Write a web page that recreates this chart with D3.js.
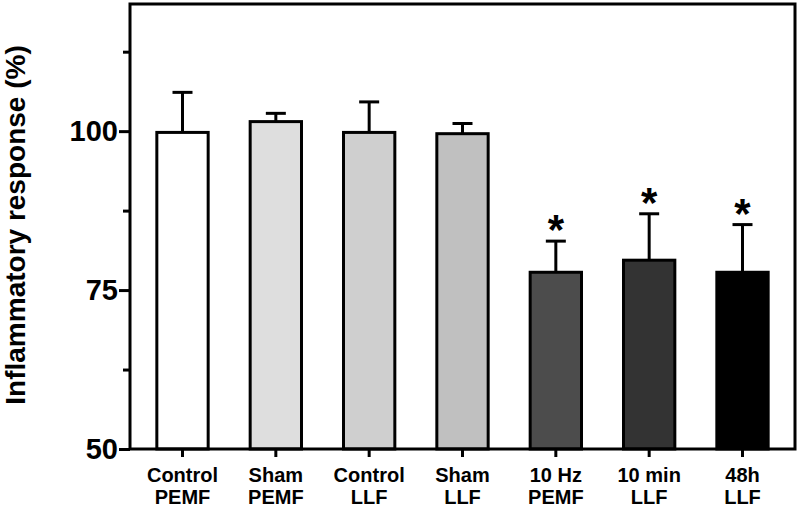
<!DOCTYPE html>
<html>
<head>
<meta charset="utf-8">
<script src="https://cdn.jsdelivr.net/npm/d3@7"></script>
<style>
  body { margin: 0; background: #fff; }
  text { font-family: "Liberation Sans", Arial, Helvetica, sans-serif; font-weight: bold; }
</style>
</head>
<body>
<svg id="chart" width="800" height="509"></svg>
<script>
const groups = [["Control", "PEMF"], ["Sham", "PEMF"], ["Control", "LLF"], ["Sham", "LLF"],
                ["10 Hz", "PEMF"], ["10 min", "LLF"], ["48h", "LLF"]];
const means = [99.8, 101.5, 99.8, 99.6, 77.8, 79.7, 77.8];
const errTops = [106.1, 102.8, 104.6, 101.2, 82.7, 87.0, 85.3];
const significant = [false, false, false, false, true, true, true];
const fills = ["#ffffff", "#dedede", "#cfcfcf", "#c0c0c0", "#4c4c4c", "#333333", "#000000"];
const yTicks = [50, 62.5, 75, 87.5, 100, 112.5];
const yLabels = [50, 75, 100];

const svg = d3.select("#chart");
const mLeft = 130, mRight = 795, mTop = 4, mBottom = 449;

const x = d3.scaleBand()
    .domain(d3.range(groups.length))
    .range([mLeft, mRight])
    .paddingInner(0.45)
    .paddingOuter(0.2875);

const y = d3.scaleLinear().domain([50, 120]).range([mBottom, mTop]);
const cx = i => x(i) + x.bandwidth() / 2;

// bars
svg.selectAll(".bar")
    .data(means)
    .enter()
    .append("rect")
    .attr("x", (d, i) => x(i))
    .attr("y", d => y(d))
    .attr("width", x.bandwidth())
    .attr("height", d => y(50) - y(d))
    .attr("fill", (d, i) => fills[i])
    .attr("stroke", "#000")
    .attr("stroke-width", 3);

// error bars (upper only)
const err = svg.selectAll(".err")
    .data(means)
    .enter()
    .append("g")
    .attr("stroke", "#000")
    .attr("stroke-width", 3);

err.append("line")
    .attr("x1", (d, i) => cx(i))
    .attr("x2", (d, i) => cx(i))
    .attr("y1", d => y(d))
    .attr("y2", (d, i) => y(errTops[i]));

err.append("line")
    .attr("x1", (d, i) => cx(i) - 10)
    .attr("x2", (d, i) => cx(i) + 10)
    .attr("y1", (d, i) => y(errTops[i]))
    .attr("y2", (d, i) => y(errTops[i]));

// asterisks
const starIdx = d3.range(groups.length).filter(i => significant[i]);
svg.selectAll(".star")
    .data(starIdx)
    .enter()
    .append("text")
    .attr("x", i => cx(i))
    .attr("y", i => y(errTops[i]) + 3)
    .attr("text-anchor", "middle")
    .attr("font-size", 42)
    .text("*");

// frame
svg.append("rect")
    .attr("x", mLeft).attr("y", mTop)
    .attr("width", mRight - mLeft).attr("height", mBottom - mTop)
    .attr("fill", "none").attr("stroke", "#000").attr("stroke-width", 3);

// y axis
const yAxis = svg.append("g")
    .attr("transform", `translate(${mLeft},0)`)
    .call(d3.axisLeft(y).tickValues(yTicks).tickSize(0).tickFormat(d => yLabels.includes(d) ? d : ""));
yAxis.select(".domain").remove();
yAxis.selectAll(".tick line")
    .attr("x2", d => yLabels.includes(d) ? -11 : -7)
    .attr("stroke", "#000").attr("stroke-width", 3);
yAxis.selectAll(".tick text")
    .attr("x", -12)
    .attr("font-size", 29)
    .attr("fill", "#000");

// x axis
const xAxis = svg.append("g")
    .attr("transform", `translate(0,${mBottom})`)
    .call(d3.axisBottom(x).tickSize(8).tickFormat(""));
xAxis.select(".domain").remove();
xAxis.selectAll(".tick line").attr("stroke", "#000").attr("stroke-width", 3);

const xl = svg.selectAll(".xlab")
    .data(groups)
    .enter()
    .append("text")
    .attr("text-anchor", "middle")
    .attr("font-size", 20)
    .attr("transform", (d, i) => `translate(${cx(i)},0)`);
xl.append("tspan").attr("x", 0).attr("y", 482).text(d => d[0]);
xl.append("tspan").attr("x", 0).attr("y", 504).text(d => d[1]);

// y title
svg.append("text")
    .attr("transform", "translate(25,225) rotate(-90)")
    .attr("text-anchor", "middle")
    .attr("font-size", 28)
    .text("Inflammatory response (%)");
</script>
</body>
</html>
